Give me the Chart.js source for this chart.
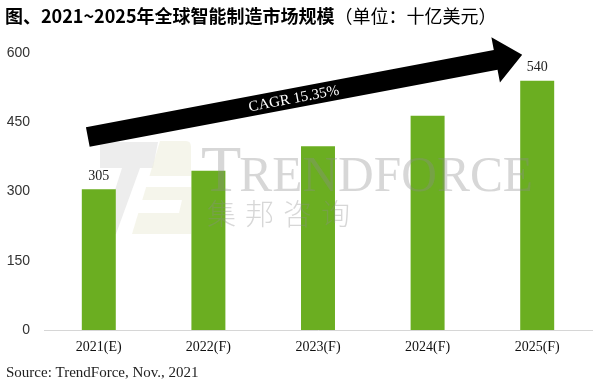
<!DOCTYPE html>
<html>
<head>
<meta charset="utf-8">
<script src="https://cdn.jsdelivr.net/npm/chart.js@4/dist/chart.umd.min.js"></script>
<style>
  html, body { margin: 0; padding: 0; background: #fff; }
  #wrap { width: 594px; height: 381px; position: relative; }
</style>
</head>
<body>
<div id="wrap"><canvas id="c" width="594" height="381"></canvas></div>
<script>
const categories = ["2021(E)", "2022(F)", "2023(F)", "2024(F)", "2025(F)"];
const marketSize = [305, 345, 398, 464, 540];
const shownLabels = ["305", "", "", "", "540"];
const yTicks = [0, 150, 300, 450, 600];
const titleBold = "图、2021~2025年全球智能制造市场规模";
const titleUnit = "（单位：十亿美元）";
const sourceText = "Source: TrendForce, Nov., 2021";
const cagrText = "CAGR 15.35%";

const barColor = "#6bae21";

const decorPlugin = {
  id: "decor",
  beforeDatasetsDraw(chart) {
    const ctx = chart.ctx;
    ctx.save();
    // faint logo
    ctx.fillStyle = "rgba(215,215,215,0.45)";
    ctx.beginPath();
    ctx.moveTo(100,142); ctx.lineTo(158,142); ctx.lineTo(153,168); ctx.lineTo(140,168);
    ctx.lineTo(116,234); ctx.lineTo(101,234); ctx.lineTo(122,168); ctx.lineTo(100,168);
    ctx.closePath(); ctx.fill();
    ctx.fillStyle = "rgba(238,238,222,0.6)";
    ctx.beginPath();
    ctx.moveTo(160,141); ctx.lineTo(186,141); ctx.quadraticCurveTo(191,141,191,147);
    ctx.lineTo(191,234); ctx.lineTo(132,234); ctx.closePath(); ctx.fill();
    ctx.fillStyle = "#ffffff";
    ctx.beginPath();
    ctx.moveTo(148,176); ctx.lineTo(192,176); ctx.lineTo(192,187); ctx.lineTo(145,187); ctx.closePath(); ctx.fill();
    ctx.beginPath();
    ctx.moveTo(141,200); ctx.lineTo(182,200); ctx.lineTo(179,213); ctx.lineTo(137,213); ctx.closePath(); ctx.fill();
    ctx.restore();
  },
  afterDatasetsDraw(chart) {
    const ctx = chart.ctx;
    const x = chart.scales.x, y = chart.scales.y;
    ctx.save();
    // watermark text
    ctx.fillStyle = "rgba(140,140,140,0.35)";
    ctx.textBaseline = "alphabetic";
    ctx.textAlign = "left";
    ctx.font = "66px 'Liberation Serif'";
    ctx.fillText("T", 201, 191);
    const tw = ctx.measureText("T").width;
    ctx.font = "50px 'Liberation Serif'";
    ctx.fillText("RENDFORCE", 201 + tw - 2, 191, 533 - (201 + tw - 2));
    ctx.font = "300 29px 'Noto Sans CJK SC'";
    const cn = "集邦咨询";
    for (let i = 0; i < cn.length; i++) ctx.fillText(cn[i], 207 + i * 38, 225);

    // CAGR arrow, anchored to the scales
    const tx = x.getPixelForValue(0) - 11, ty = y.getPixelForValue(418);
    const hx = x.getPixelForValue(4) - 15, hy = y.getPixelForValue(596);
    const ang = Math.atan2(hy - ty, hx - tx);
    const len = Math.hypot(hx - tx, hy - ty);
    ctx.translate(tx, ty);
    ctx.rotate(ang);
    ctx.fillStyle = "#000";
    const sw = 10, hl = 27, hw = 23;
    ctx.beginPath();
    ctx.moveTo(0, -sw); ctx.lineTo(len - hl, -sw); ctx.lineTo(len - hl, -hw);
    ctx.lineTo(len, 0); ctx.lineTo(len - hl, hw); ctx.lineTo(len - hl, sw);
    ctx.lineTo(0, sw); ctx.closePath(); ctx.fill();
    ctx.fillStyle = "#fff";
    ctx.font = "15px 'Liberation Serif'";
    ctx.textAlign = "center";
    ctx.textBaseline = "middle";
    ctx.fillText(cagrText, (len - hl) * 0.5 + 2, 1);
    ctx.restore();

    // value labels
    ctx.save();
    ctx.fillStyle = "#222";
    ctx.font = "14px 'Liberation Serif'";
    ctx.textAlign = "center";
    ctx.textBaseline = "bottom";
    const meta = chart.getDatasetMeta(0);
    meta.data.forEach((bar, i) => {
      if (shownLabels[i]) ctx.fillText(shownLabels[i], bar.x, bar.y - 6);
    });
    ctx.restore();
  },
  afterDraw(chart) {
    const ctx = chart.ctx;
    ctx.save();
    ctx.fillStyle = "#000";
    ctx.textBaseline = "middle";
    ctx.textAlign = "left";
    ctx.font = "bold 18px 'Noto Sans CJK SC'";
    ctx.fillText(titleBold, 5, 16);
    const w = ctx.measureText(titleBold).width;
    ctx.font = "18px 'Noto Sans CJK SC'";
    ctx.fillText(titleUnit, 5 + w, 16);
    ctx.fillStyle = "#222";
    ctx.font = "15px 'Liberation Serif'";
    ctx.fillText(sourceText, 6, 373);
    ctx.restore();
  }
};

new Chart(document.getElementById("c"), {
  type: "bar",
  data: {
    labels: categories,
    datasets: [{
      data: marketSize,
      backgroundColor: barColor,
      barPercentage: 0.62,
      categoryPercentage: 0.5
    }]
  },
  options: {
    responsive: false,
    animation: false,
    devicePixelRatio: 1,
    layout: { padding: { top: 53, right: 2, left: 0, bottom: 0 } },
    plugins: { legend: { display: false }, tooltip: { enabled: false } },
    scales: {
      x: {
        grid: { display: false, drawTicks: false },
        border: { display: true, color: "#d6d6d6", width: 1 },
        ticks: { color: "#111", font: { family: "'Liberation Serif'", size: 14 }, padding: 9 },
        afterFit(s) { s.height = 51; }
      },
      y: {
        min: 0, max: 600,
        afterBuildTicks(s) { s.ticks = yTicks.map(v => ({ value: v })); },
        grid: { display: false, drawTicks: false },
        border: { display: false },
        ticks: { color: "#333", font: { family: "'Liberation Sans'", size: 14 }, padding: 14 },
        afterFit(s) { s.width = 44; }
      }
    }
  },
  plugins: [decorPlugin]
});
</script>
</body>
</html>
